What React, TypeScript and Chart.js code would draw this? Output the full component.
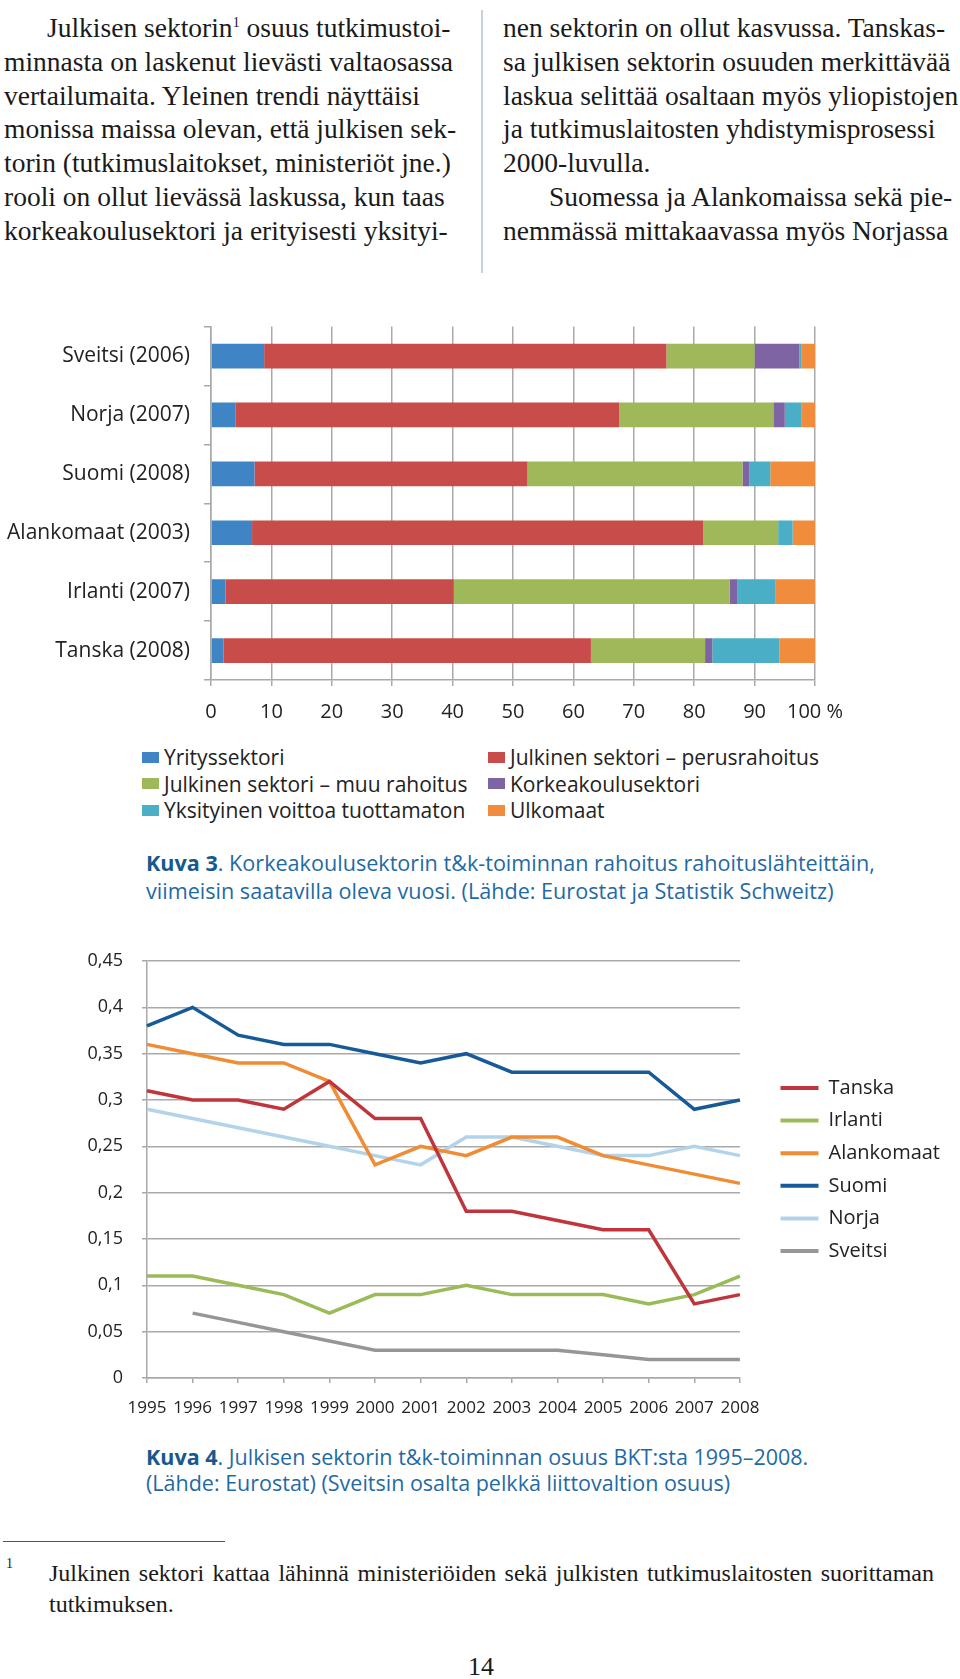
import React, { useEffect, useRef } from "react";
import { Chart, registerables } from "chart.js";
Chart.register(...registerables);

// ---------- Kuva 3 data ----------
const barCategories = ["Sveitsi (2006)", "Norja (2007)", "Suomi (2008)", "Alankomaat (2003)", "Irlanti (2007)", "Tanska (2008)"];
const sourceLabels = [
  "Yrityssektori",
  "Julkinen sektori – perusrahoitus",
  "Julkinen sektori – muu rahoitus",
  "Korkeakoulusektori",
  "Yksityinen voittoa tuottamaton",
  "Ulkomaat",
];
const yritys = [8.8, 4.1, 7.2, 6.8, 2.4, 2.1];
const perus = [66.6, 63.5, 45.2, 74.7, 37.8, 60.8];
const muu = [14.6, 25.5, 35.6, 12.4, 45.7, 18.9];
const korkea = [7.4, 1.9, 1.1, 0, 1.2, 1.2];
const yksityinen = [0.4, 2.8, 3.5, 2.4, 6.3, 11.1];
const ulkomaat = [2.2, 2.2, 7.4, 3.7, 6.6, 5.9];
const percentTickLabels = ["0", "10", "20", "30", "40", "50", "60", "70", "80", "90", "100 %"];

// ---------- Kuva 4 data ----------
const years = ["1995", "1996", "1997", "1998", "1999", "2000", "2001", "2002", "2003", "2004", "2005", "2006", "2007", "2008"];
const countryLabels = ["Tanska", "Irlanti", "Alankomaat", "Suomi", "Norja", "Sveitsi"];
const tanska = [0.31, 0.3, 0.3, 0.29, 0.32, 0.28, 0.28, 0.18, 0.18, 0.17, 0.16, 0.16, 0.08, 0.09];
const irlanti = [0.11, 0.11, 0.1, 0.09, 0.07, 0.09, 0.09, 0.1, 0.09, 0.09, 0.09, 0.08, 0.09, 0.11];
const alankomaat = [0.36, 0.35, 0.34, 0.34, 0.32, 0.23, 0.25, 0.24, 0.26, 0.26, 0.24, 0.23, 0.22, 0.21];
const suomi = [0.38, 0.4, 0.37, 0.36, 0.36, 0.35, 0.34, 0.35, 0.33, 0.33, 0.33, 0.33, 0.29, 0.3];
const norja = [0.29, 0.28, 0.27, 0.26, 0.25, 0.24, 0.23, 0.26, 0.26, 0.25, 0.24, 0.24, 0.25, 0.24];
const sveitsi = [null, 0.07, 0.06, 0.05, 0.04, 0.03, 0.03, 0.03, 0.03, 0.03, 0.025, 0.02, 0.02, 0.02];
const shareTickLabels = ["0", "0,05", "0,1", "0,15", "0,2", "0,25", "0,3", "0,35", "0,4", "0,45"];

const BAR_COLORS = ["#3f85c6", "#c84c4a", "#9fb85a", "#7f64a3", "#4aaec6", "#f08c3c"];
const LINE_COLORS = ["#c0353b", "#9bbb59", "#f08c34", "#175a99", "#b3d3ea", "#969696"];
const SANS = "'Open Sans', sans-serif";
const SERIF = "'Liberation Serif', 'Times New Roman', serif";
const GRID = "#a9a9a9";
const TEXT = "#222";

const leftLines = [
  "Julkisen sektorin<sup>1</sup> osuus tutkimustoi-",
  "minnasta on laskenut lievästi valtaosassa",
  "vertailumaita. Yleinen trendi näyttäisi",
  "monissa maissa olevan, että julkisen sek-",
  "torin (tutkimuslaitokset, ministeriöt jne.)",
  "rooli on ollut lievässä laskussa, kun taas",
  "korkeakoulusektori ja erityisesti yksityi-",
];
const rightLines = [
  "nen sektorin on ollut kasvussa. Tanskas-",
  "sa julkisen sektorin osuuden merkittävää",
  "laskua selittää osaltaan myös yliopistojen",
  "ja tutkimuslaitosten yhdistymisprosessi",
  "2000-luvulla.",
  "Suomessa ja Alankomaissa sekä pie-",
  "nemmässä mittakaavassa myös Norjassa",
];

function BarChart() {
  const ref = useRef<HTMLCanvasElement | null>(null);
  useEffect(() => {
    const series = [yritys, perus, muu, korkea, yksityinen, ulkomaat];
    const chart = new Chart(ref.current as HTMLCanvasElement, {
      type: "bar",
      data: {
        labels: barCategories,
        datasets: sourceLabels.map((l, i) => ({
          label: l,
          data: series[i],
          backgroundColor: BAR_COLORS[i],
          borderWidth: 0,
          barPercentage: 0.42,
          categoryPercentage: 1,
        })),
      },
      options: {
        indexAxis: "y",
        animation: false,
        responsive: false,
        maintainAspectRatio: false,
        layout: { padding: { top: 25, right: 145, left: 0, bottom: 0 } },
        plugins: { legend: { display: false }, tooltip: { enabled: false } },
        scales: {
          x: {
            stacked: true,
            min: 0,
            max: 100,
            ticks: {
              stepSize: 10,
              font: { family: SANS, size: 20 },
              color: TEXT,
              padding: 14,
              maxRotation: 0,
              callback: (_v: any, i: number) => percentTickLabels[i],
            },
            grid: { color: GRID, lineWidth: 1.5, tickLength: 6 },
            border: { color: GRID, width: 1.5 },
            afterFit: (s: any) => {
              s.height = 60;
            },
          },
          y: {
            stacked: true,
            ticks: { font: { family: SANS, size: 21 }, color: TEXT, padding: 14 },
            grid: { offset: true, drawOnChartArea: false, tickLength: 7, color: GRID, lineWidth: 1.5 },
            border: { color: GRID, width: 1.5 },
            afterFit: (s: any) => {
              s.width = 211;
            },
          },
        },
      },
    } as any);
    return () => chart.destroy();
  }, []);
  return <canvas ref={ref} width={960} height={440} style={{ position: "absolute", left: 0, top: 300, width: 960, height: 440 }} />;
}

function LineChart() {
  const ref = useRef<HTMLCanvasElement | null>(null);
  useEffect(() => {
    const series = [tanska, irlanti, alankomaat, suomi, norja, sveitsi];
    const chart = new Chart(ref.current as HTMLCanvasElement, {
      type: "line",
      data: {
        labels: years,
        datasets: countryLabels.map((l, i) => ({
          label: l,
          data: series[i],
          borderColor: LINE_COLORS[i],
          backgroundColor: LINE_COLORS[i],
          borderWidth: 3.5,
          pointRadius: 0,
          tension: 0,
          fill: false,
          yAxisID: "y",
        })),
      },
      options: {
        animation: false,
        responsive: false,
        maintainAspectRatio: false,
        layout: { padding: { top: 31, right: 10, left: 0, bottom: 0 } },
        plugins: {
          tooltip: { enabled: false },
          legend: {
            position: "right",
            fullSize: false,
            align: "center",
            maxWidth: 230,
            labels: {
              boxWidth: 38,
              boxHeight: 4,
              padding: 12.6,
              color: TEXT,
              font: { family: SANS, size: 20 },
              generateLabels: (c: any) =>
                (Chart.defaults.plugins.legend.labels as any).generateLabels(c).map((it: any) => ({ ...it, lineWidth: 0 })),
            },
          },
        },
        scales: {
          x: {
            offset: false,
            grid: { drawOnChartArea: false, tickLength: 5, color: GRID, lineWidth: 1.5 },
            border: { color: GRID, width: 1.5 },
            ticks: { font: { family: SANS, size: 17 }, color: TEXT, padding: 15, maxRotation: 0, autoSkip: false },
            afterFit: (s: any) => {
              s.height = 52;
            },
          },
          y: {
            min: 0,
            max: 0.45,
            ticks: {
              stepSize: 0.05,
              font: { family: SANS, size: 18 },
              color: TEXT,
              padding: 19,
              callback: (_v: any, i: number) => shareTickLabels[i],
            },
            grid: { color: GRID, lineWidth: 1.5, tickLength: 5 },
            border: { color: GRID, width: 1.5 },
            afterFit: (s: any) => {
              s.width = 147;
            },
          },
          yR: {
            type: "linear",
            position: "right",
            display: true,
            grid: { display: false },
            border: { display: false },
            ticks: { display: false },
            afterFit: (s: any) => {
              s.width = 28;
            },
          },
        },
      },
    } as any);
    return () => chart.destroy();
  }, []);
  return <canvas ref={ref} width={960} height={500} style={{ position: "absolute", left: 0, top: 930, width: 960, height: 500 }} />;
}

const bodyLine = (html: string, left: number, top: number, indent: number, key: string) => (
  <div
    key={key}
    style={{
      position: "absolute",
      left: left + indent,
      top,
      height: 34,
      lineHeight: "34px",
      fontFamily: SERIF,
      fontSize: 27.5,
      color: "#1a1a1a",
      whiteSpace: "nowrap",
    }}
    dangerouslySetInnerHTML={{ __html: html }}
  />
);

export default function App() {
  const legendOrder = [0, 1, 2, 3, 4, 5];
  return (
    <div style={{ position: "absolute", left: 0, top: 0, width: 960, height: 1679, background: "#fff", overflow: "hidden" }}>
      <style>{`sup{font-size:14px;line-height:0;vertical-align:10px;}`}</style>
      {leftLines.map((l, i) => bodyLine(l, 4, 11 + 33.8 * i, i === 0 ? 43 : 0, "l" + i))}
      {rightLines.map((l, i) => bodyLine(l, 503, 11 + 33.8 * i, i === 5 ? 46 : 0, "r" + i))}
      <div style={{ position: "absolute", left: 481, top: 10, width: 1.5, height: 263, background: "#c9d2da" }} />

      <BarChart />

      {legendOrder.map((idx) => {
        const col = idx % 2;
        const row = Math.floor(idx / 2);
        return (
          <div
            key={"lg" + idx}
            style={{
              position: "absolute",
              left: col === 0 ? 142 : 488,
              top: 744 + row * 26.5,
              height: 26.5,
              lineHeight: "26.5px",
              fontFamily: SANS,
              fontSize: 21,
              color: TEXT,
              whiteSpace: "nowrap",
              display: "flex",
              alignItems: "center",
            }}
          >
            <span style={{ display: "inline-block", width: 17, height: 11, background: BAR_COLORS[idx], marginRight: 5 }} />
            <span>{sourceLabels[idx]}</span>
          </div>
        );
      })}

      <div style={{ position: "absolute", left: 146, top: 849, fontFamily: SANS, fontSize: 21.6, lineHeight: "28px", color: "#1f6aa5", whiteSpace: "nowrap" }}>
        <div>
          <b style={{ color: "#17598f" }}>Kuva 3</b>. Korkeakoulusektorin t&amp;k-toiminnan rahoitus rahoituslähteittäin,
        </div>
        <div>viimeisin saatavilla oleva vuosi. (Lähde: Eurostat ja Statistik Schweitz)</div>
      </div>

      <LineChart />

      <div style={{ position: "absolute", left: 146, top: 1444, fontFamily: SANS, fontSize: 21.5, lineHeight: "26px", color: "#1f6aa5", whiteSpace: "nowrap" }}>
        <div>
          <b style={{ color: "#17598f" }}>Kuva 4</b>. Julkisen sektorin t&amp;k-toiminnan osuus BKT:sta 1995–2008.
        </div>
        <div>(Lähde: Eurostat) (Sveitsin osalta pelkkä liittovaltion osuus)</div>
      </div>

      <div style={{ position: "absolute", left: 3, top: 1541, width: 222, height: 1.3, background: "#555" }} />
      <div style={{ position: "absolute", left: 6, top: 1556, fontFamily: SERIF, fontSize: 14, color: "#1a1a1a" }}>1</div>
      <div
        style={{
          position: "absolute",
          left: 49,
          top: 1558,
          width: 885,
          height: 31,
          lineHeight: "31px",
          fontFamily: SERIF,
          fontSize: 24,
          color: "#1a1a1a",
          textAlign: "justify",
          textAlignLast: "justify",
          whiteSpace: "nowrap",
        } as any}
      >
        Julkinen sektori kattaa lähinnä ministeriöiden sekä julkisten tutkimuslaitosten suorittaman
      </div>
      <div style={{ position: "absolute", left: 49, top: 1589, height: 31, lineHeight: "31px", fontFamily: SERIF, fontSize: 24, color: "#1a1a1a" }}>
        tutkimuksen.
      </div>
      <div style={{ position: "absolute", left: 0, top: 1650, width: 962, textAlign: "center", fontFamily: SERIF, fontSize: 26, lineHeight: "34px", color: "#1a1a1a" }}>
        14
      </div>
    </div>
  );
}
